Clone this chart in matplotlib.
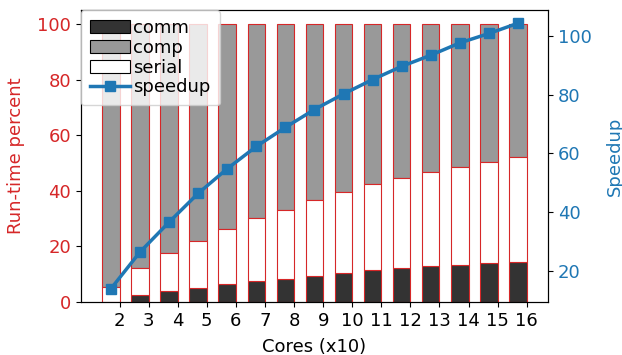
import numpy as np
import matplotlib
matplotlib.use("Agg")
import matplotlib.pyplot as plt

cores = ["2", "3", "4", "5", "6", "7", "8", "9", "10", "11", "12", "13", "14", "15", "16"]
comm = [0.2, 2.6, 4.1, 5.2, 6.5, 7.6, 8.4, 9.5, 10.6, 11.6, 12.1, 13.0, 13.5, 14.2, 14.4]
serial_top = [5.4, 12.1, 17.5, 21.9, 26.2, 30.2, 33.2, 36.6, 39.6, 42.4, 44.5, 46.7, 48.6, 50.5, 52.1]
speedup = [13.8, 26.3, 36.5, 46.3, 54.7, 62.3, 68.8, 74.9, 80.2, 85.1, 89.6, 93.4, 97.6, 100.8, 104.3]

comm = np.array(comm)
serial = np.array(serial_top) - comm
comp = 100.0 - comm - serial

plt.rcParams["font.family"] = ["DejaVu Sans"]
plt.rcParams["font.size"] = 13

fig = plt.figure(figsize=(6.22, 3.55), dpi=100)
ax = fig.add_axes([0.130, 0.149, 0.751, 0.823])
ax2 = ax.twinx()

x = np.arange(len(cores))
w = 0.6
edge = "tab:red"
ax.bar(x, comm, w, color="#333333", edgecolor=edge, linewidth=0.8, label="comm")
ax.bar(x, comp, w, bottom=comm + serial, color="#999999", edgecolor=edge, linewidth=0.8, label="comp")
ax.bar(x, serial, w, bottom=comm, color="white", edgecolor=edge, linewidth=0.8, label="serial")

ax2.plot(x, speedup, color="tab:blue", marker="s", markersize=7, linewidth=2.5, label="speedup")

ax.set_ylim(0, 105)
ax.set_yticks([0, 20, 40, 60, 80, 100])
ax.set_xticks(x + w / 2)
ax.set_xticklabels(cores)
ax.set_xlabel("Cores (x10)", labelpad=6)
ax.set_ylabel("Run-time percent", color="tab:red", labelpad=9)
ax.tick_params(axis="y", labelcolor="tab:red")
ax2.set_ylabel("Speedup", color="tab:blue", labelpad=10)
ax2.tick_params(axis="y", labelcolor="tab:blue")
ax2.set_yticks([20, 40, 60, 80, 100])

h1, l1 = ax.get_legend_handles_labels()
h2, l2 = ax2.get_legend_handles_labels()
leg = ax2.legend(h1 + h2, l1 + l2, loc="upper left", borderaxespad=0.0,
                 labelspacing=0.1, handletextpad=0.2, borderpad=0.5,
                 handlelength=2.2)
for hnd in leg.legend_handles[:3]:
    hnd.set_edgecolor("black")

fig.savefig("out.png", dpi=100)
